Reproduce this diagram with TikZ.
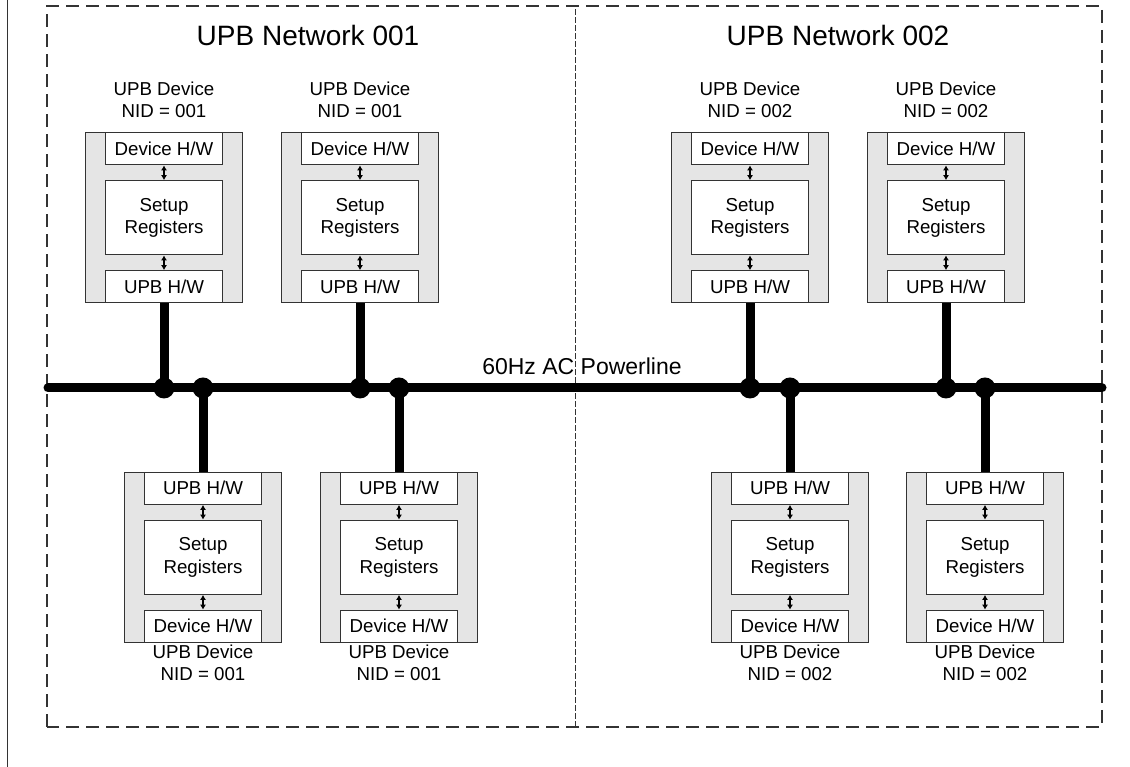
\documentclass[tikz,border=0pt]{standalone}
\usepackage{fontspec}
\setmainfont{Liberation Sans}
\usepackage{tikz}
\usetikzlibrary{positioning, arrows.meta}

\begin{document}
\begin{tikzpicture}[x=1pt, y=1pt,
    device/.style={draw=black!80, line width=1.2pt, fill=gray!20, minimum width=157pt, minimum height=170pt, inner sep=0pt},
    hwbar/.style={draw=black!80, line width=1.2pt, fill=white, minimum width=117pt, minimum height=32pt, inner sep=0pt, font={\fontsize{18.7pt}{22.3pt}\selectfont}},
    regs/.style={hwbar, minimum height=74pt, align=center},
    tag/.style={align=center, inner sep=0pt, font={\fontsize{18.7pt}{22.3pt}\selectfont}},
    title/.style={anchor=base, inner sep=0pt, font={\fontsize{28pt}{32pt}\selectfont}},
    wire/.style={line width=9pt},
    tap/.style={circle, fill, inner sep=0pt, minimum size=21pt},
    link/.style={{Latex[length=5pt,width=6pt]}-{Latex[length=5pt,width=6pt]}, line width=1.3pt},
    frame/.style={draw=black!80, line width=1.2pt, dash pattern=on 13pt off 7pt},
    split/.style={draw=black!80, line width=1pt, dash pattern=on 6pt off 2pt}]
    \useasboundingbox (0,0) rectangle (1130,767);

    % frames
    \draw[line width=1.3pt, black!80] (7.5,0) -- (7.5,767);
    \draw[frame] (47,40) rectangle (1102,761);
    \draw[split] (575,40) -- (575,761);

    \node[title] (net1) at (308,721) {UPB Network 001};
    \node[title] (net2) at (838,721) {UPB Network 002};

    % powerline
    \coordinate (pl-w) at (48,379);
    \coordinate (pl-e) at (1102,379);
    \draw[wire, line cap=round] (pl-w) -- (pl-e);
    \node[anchor=base, inner sep=0pt, font={\fontsize{23pt}{26pt}\selectfont}] (pl) at (582,392) {60Hz AC Powerline};

    % upper devices
    \foreach \n/\x/\id in {1/164/001, 2/360/001, 3/750/002, 4/946/002} {
        \node[device] (top\n) at (\x,549.2) {};
        \node[hwbar, anchor=north] (dhw\n) at (top\n.north) {Device H/W};
        \node[regs] (reg\n) at (top\n.center) {Setup\\Registers};
        \node[hwbar, anchor=south] (uhw\n) at (top\n.south) {UPB H/W};
        \node[tag, above=14.5pt of top\n] (nid\n) {UPB Device\\NID = \id};
        \draw[link] (dhw\n) -- (reg\n);
        \draw[link] (reg\n) -- (uhw\n);
        \node[tap] (tap\n) at (top\n |- pl-w) {};
        \draw[wire] (uhw\n.south) -- (tap\n.center);
    }

    % lower devices
    \foreach \n/\x/\id in {5/203/001, 6/399/001, 7/790/002, 8/985/002} {
        \node[device] (bot\n) at (\x,209.7) {};
        \node[hwbar, anchor=north] (uhw\n) at (bot\n.north) {UPB H/W};
        \node[regs] (reg\n) at (bot\n.center) {Setup\\Registers};
        \node[hwbar, anchor=south] (dhw\n) at (bot\n.south) {Device H/W};
        \node[tag, below=2pt of bot\n] (nid\n) {UPB Device\\NID = \id};
        \draw[link] (uhw\n) -- (reg\n);
        \draw[link] (reg\n) -- (dhw\n);
        \node[tap] (tap\n) at (bot\n |- pl-w) {};
        \draw[wire] (tap\n.center) -- (uhw\n.north);
    }
\end{tikzpicture}
\end{document}
